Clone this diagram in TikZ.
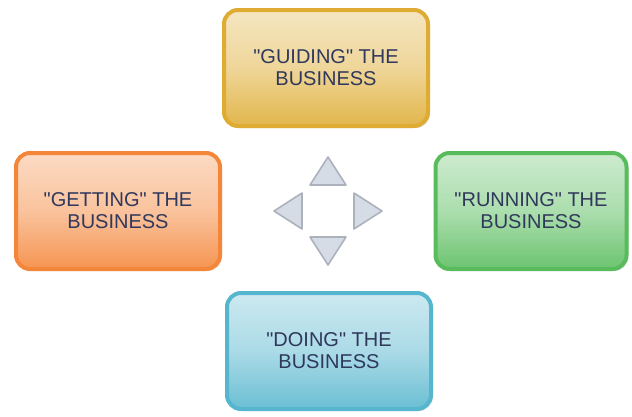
\documentclass[tikz,border=0pt]{standalone}
\usepackage{fontspec}
\newfontfamily\bizfont{Liberation Sans}
\usetikzlibrary{shadows}
\definecolor{goldc}{RGB}{222,172,50}
\definecolor{orangec}{RGB}{244,134,58}
\definecolor{greenc}{RGB}{88,188,92}
\definecolor{bluec}{RGB}{86,182,206}
\definecolor{txtc}{RGB}{48,56,92}
\definecolor{trifill}{RGB}{214,220,230}
\definecolor{triline}{RGB}{172,178,188}
\tikzset{
  bizbox/.style={draw=#1, line width=4pt, rounded corners=14pt,
    top color=#1!30!white, bottom color=#1!88!white, middle color=#1!50!white,
    drop shadow={opacity=0.2, shadow xshift=2pt, shadow yshift=-2pt},
    minimum width=204pt, minimum height=116pt,
    align=center, text=txtc, font=\bizfont\fontsize{20}{22}\selectfont},
  arrowtri/.style={fill=trifill, draw=triline, line width=1.6pt, line join=round}
}
\begin{document}
\begin{tikzpicture}[x=1pt,y=-1pt]
    \useasboundingbox (0,0) rectangle (632,416);
    \node[bizbox=goldc] (guiding) at (326,68) {"GUIDING" THE\\BUSINESS};
    \node[bizbox=orangec] (getting) at (118,211) {"GETTING" THE\\BUSINESS};
    \node[bizbox=greenc, minimum width=191pt] (running) at (531,211) {"RUNNING" THE\\BUSINESS};
    \node[bizbox=bluec] (doing) at (329,351) {"DOING" THE\\BUSINESS};
    \coordinate (hub) at (328,211);
    \foreach \ang in {0,90,180,270}
        \draw[arrowtri, shift={(hub)}, rotate=\ang] (26,-18) -- (54,0) -- (26,18) -- cycle;
\end{tikzpicture}
\end{document}
